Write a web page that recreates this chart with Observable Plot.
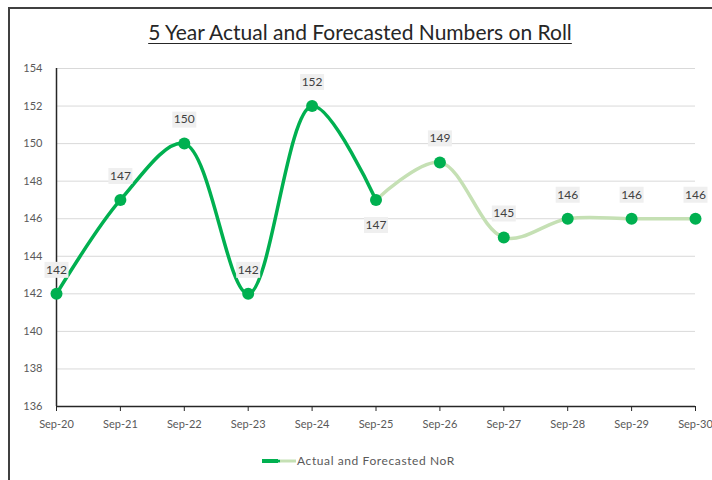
<!DOCTYPE html>
<html><head><meta charset="utf-8">
<script src="https://cdn.jsdelivr.net/npm/d3@7"></script>
<script src="https://cdn.jsdelivr.net/npm/@observablehq/plot@0.6"></script>
<style>
body{margin:0;background:#fff;font-family:Lato,sans-serif;}
#wrap{position:relative;width:712px;height:480px;overflow:hidden;background:#fff;}
#frame{position:absolute;left:8px;top:7px;width:740px;height:520px;border:2px solid #404040;box-sizing:border-box;}
#title{position:absolute;left:0;top:19px;width:720px;text-align:center;font-size:21px;color:#262626;text-decoration:underline;text-underline-offset:3px;text-decoration-thickness:1px;}
#legend{position:absolute;top:453px;left:262px;font-size:12px;color:#595959;display:flex;align-items:center;letter-spacing:0.6px;}
#chart{position:absolute;left:0;top:0;}
</style></head>
<body>
<div id="wrap">
  <div id="frame"></div>
  <div id="chart"></div>
  <div id="title">5 Year Actual and Forecasted Numbers on Roll</div>
  <div id="legend">
    <svg width="35" height="10"><line x1="0" y1="5" x2="16" y2="5" stroke="#00b050" stroke-width="4"/><circle cx="17" cy="5" r="1.5" fill="#00b050"/><line x1="18" y1="5" x2="34" y2="5" stroke="#c5e0b4" stroke-width="3"/></svg>
    <span>Actual and Forecasted NoR</span>
  </div>
</div>
<script>
const categories = ["Sep-20","Sep-21","Sep-22","Sep-23","Sep-24","Sep-25","Sep-26","Sep-27","Sep-28","Sep-29","Sep-30"];
const values = [142,147,150,142,152,147,149,145,146,146,146];
const actualCount = 6; // Sep-20 .. Sep-25 actual, rest forecast
const labelBelow = [false,false,false,false,false,true,false,false,false,false,false];
const yTicks = [136,138,140,142,144,146,148,150,152,154];

const data = categories.map((c,i)=>({cat:c, v:values[i], below:labelBelow[i]}));
const actual = data.slice(0, actualCount);
const forecast = data.slice(actualCount-1);

const boxSymbol = {draw(ctx){ ctx.moveTo(-12,-8); ctx.lineTo(12,-8); ctx.lineTo(12,8); ctx.lineTo(-12,8); ctx.closePath(); }};

const plot = Plot.plot({
  width: 712, height: 480,
  marginTop: 68, marginBottom: 74, marginLeft: 56, marginRight: 17,
  style: {fontFamily: 'Lato,sans-serif', fontSize: "11px", color: "#595959", background: "transparent"},
  x: {type: "point", domain: categories, padding: 0, round: false, label: null},
  y: {domain: [136,154], label: null},
  marks: [
    Plot.gridY(yTicks, {stroke: "#d9d9d9", strokeOpacity: 1, strokeWidth: 1}),
    Plot.axisY(yTicks, {tickSize: 0, tickPadding: 14, fill: "#595959", fontSize: 11}),
    Plot.axisX(categories, {tickSize: 5, tickPadding: 9, stroke: "#262626", fill: "#595959", fontSize: 11}),
    Plot.ruleX([categories[0]], {y1: 136, y2: 154, stroke: "#262626", strokeWidth: 1.5}),
    Plot.ruleY([136], {stroke: "#262626", strokeWidth: 1.5}),
    Plot.line(forecast, {x: "cat", y: "v", curve: "catmull-rom", stroke: "#c5e0b4", strokeWidth: 3.5}),
    Plot.line(actual, {x: "cat", y: "v", curve: "catmull-rom", stroke: "#00b050", strokeWidth: 3.5}),
    Plot.dot(data, {x: "cat", y: "v", r: 6, fill: "#00b050", stroke: "none"}),
    Plot.dot(data.filter(d=>!d.below), {x: "cat", y: "v", dy: -24, symbol: boxSymbol, r: 4, fill: "#efefef", stroke: "none"}),
    Plot.dot(data.filter(d=>d.below), {x: "cat", y: "v", dy: 25, symbol: boxSymbol, r: 4, fill: "#efefef", stroke: "none"}),
    Plot.text(data.filter(d=>!d.below), {x: "cat", y: "v", dy: -24, text: d => String(d.v), fill: "#404040", fontSize: 12}),
    Plot.text(data.filter(d=>d.below), {x: "cat", y: "v", dy: 25, text: d => String(d.v), fill: "#404040", fontSize: 12})
  ]
});
document.getElementById("chart").appendChild(plot);
</script>
</body></html>
